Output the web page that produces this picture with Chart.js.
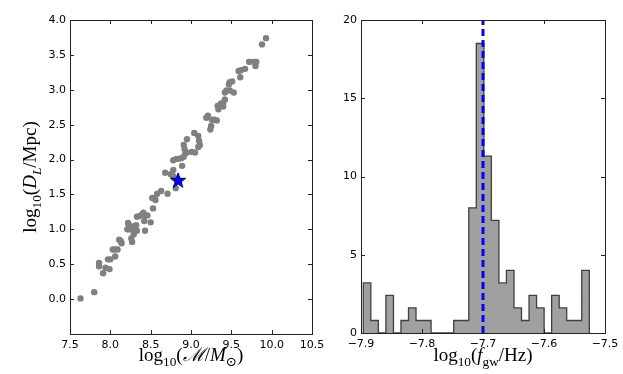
<!DOCTYPE html>
<html>
<head>
<meta charset="utf-8">
<script src="https://cdn.jsdelivr.net/npm/chart.js@4.4.1/dist/chart.umd.min.js"></script>
<style>
html, body { margin: 0; padding: 0; background: #fff; }
#wrap { position: relative; width: 623px; height: 374px; }
#graficoMassa { position: absolute; left: 0; top: 0; }
#graficoFreq { position: absolute; left: 330px; top: 0; }
</style>
</head>
<body>
<div id="wrap">
  <canvas id="graficoMassa" width="330" height="374" style="width:330px;height:374px"></canvas>
  <canvas id="graficoFreq" width="293" height="374" style="width:293px;height:374px"></canvas>
</div>
<script>
// painel esquerdo: log10(M) x log10(D_L)
var massaX = [7.63, 7.80, 7.91, 7.86, 7.86, 7.94, 7.99, 7.97, 8.00, 8.06,
              8.03, 8.06, 8.09, 8.11, 8.13, 8.14, 8.22, 8.23, 8.21, 8.23,
              8.26, 8.28, 8.29, 8.32, 8.33, 8.29, 8.26, 8.27, 8.43, 8.33,
              8.36, 8.39, 8.41, 8.43, 8.46, 8.42, 8.50, 8.53, 8.52, 8.55,
              8.56, 8.58, 8.63, 8.71, 8.68, 8.81, 8.75, 8.78, 8.78, 8.82,
              8.85, 8.88, 8.91, 8.93, 8.95, 9.01, 9.05, 8.89, 8.78, 8.95,
              8.91, 8.92, 9.04, 9.09, 9.10, 9.11, 9.09, 9.19, 9.21, 9.26,
              9.29, 9.32, 9.25, 9.24, 9.33, 9.34, 9.40, 9.42, 9.40, 9.37,
              9.44, 9.42, 9.48, 9.53, 9.51, 9.48, 9.47, 9.61, 9.62, 9.59,
              9.67, 9.80, 9.72, 9.73, 9.78, 9.81, 9.88, 9.93];
var distY = [0.01, 0.10, 0.37, 0.47, 0.52, 0.45, 0.43, 0.57, 0.57, 0.61,
             0.71, 0.71, 0.71, 0.85, 0.83, 0.80, 1.09, 1.06, 1.00, 1.00,
             1.00, 1.00, 1.04, 1.06, 0.98, 0.93, 0.87, 0.82, 0.98, 1.18,
             1.19, 1.21, 1.24, 1.20, 1.20, 1.12, 1.10, 1.30, 1.45, 1.44,
             1.42, 1.51, 1.55, 1.51, 1.81, 1.59, 1.79, 1.76, 1.99, 2.01,
             2.01, 2.02, 2.04, 2.09, 2.10, 2.11, 2.10, 1.91, 1.85, 2.29,
             2.21, 2.15, 2.38, 2.34, 2.27, 2.21, 2.18, 2.60, 2.63, 2.57,
             2.57, 2.56, 2.48, 2.43, 2.77, 2.72, 2.76, 2.86, 2.82, 2.80,
             2.99, 2.96, 2.99, 2.96, 3.12, 3.11, 3.08, 3.18, 3.28, 3.27,
             3.30, 3.34, 3.40, 3.40, 3.40, 3.40, 3.65, 3.74];
var estrelaX = [8.84];
var estrelaY = [1.71];
var ticksMassaX = [7.5, 8.0, 8.5, 9.0, 9.5, 10.0, 10.5];
var ticksMassaY = [-0.5, 0.0, 0.5, 1.0, 1.5, 2.0, 2.5, 3.0, 3.5, 4.0];
var rotulosMassaY = ['', '0.0', '0.5', '1.0', '1.5', '2.0', '2.5', '3.0', '3.5', '4.0'];

// painel direito: histograma de log10(f_gw)
var bordasBins = [-7.8962, -7.8839, -7.8715, -7.8592, -7.8468, -7.8345, -7.8221, -7.8098,
                  -7.7974, -7.7851, -7.7727, -7.7604, -7.7480, -7.7357, -7.7233, -7.7110,
                  -7.6986, -7.6863, -7.6739, -7.6616, -7.6492, -7.6369, -7.6245, -7.6122,
                  -7.5998, -7.5875, -7.5751, -7.5628, -7.5504, -7.5381, -7.5257];
var alturas = [3.2, 0.8, 0, 2.4, 0, 0.8, 1.6, 0.8, 0.8, 0,
               0, 0, 0.8, 0.8, 8.0, 18.5, 11.3, 7.2, 3.2, 4.0,
               1.6, 0.8, 2.4, 1.6, 0, 2.4, 1.6, 0.8, 0.8, 4.0];
var linhaX = [-7.7, -7.7];
var linhaY = [0, 20];
var ticksFreqX = [-7.9, -7.8, -7.7, -7.6, -7.5];
var rotulosFreqX = ['\u22127.9', '\u22127.8', '\u22127.7', '\u22127.6', '\u22127.5'];
var ticksFreqY = [0, 5, 10, 15, 20];

var fonteTicks = { family: 'DejaVu Sans', size: 11 };
var fonteMat = "'Liberation Serif', 'DejaVu Serif', serif";

function criarEstrela(raio, cor, borda) {
    var c = document.createElement('canvas');
    var s = raio * 2 + 4;
    c.width = s; c.height = s;
    var g = c.getContext('2d');
    g.beginPath();
    for (var i = 0; i < 10; i++) {
        var r = i % 2 === 0 ? raio : raio * 0.4;
        var a = -Math.PI / 2 + i * Math.PI / 5;
        g.lineTo(s / 2 + r * Math.cos(a), s / 2 + r * Math.sin(a) + 1);
    }
    g.closePath();
    g.fillStyle = cor;
    g.fill();
    g.strokeStyle = borda;
    g.lineWidth = 1;
    g.stroke();
    return c;
}

// texto com subscritos (ex: log_10)
function textoRico(ctx, partes, x, y, tam, rotacao) {
    function fonte(p) {
        var t = p[1].indexOf('sub') >= 0 ? tam * 0.7 : tam;
        return (p[1].indexOf('it') >= 0 ? 'italic ' : '') + t + 'px ' + fonteMat;
    }
    var total = 0;
    partes.forEach(function(p) { ctx.font = fonte(p); total += ctx.measureText(p[0]).width; });
    ctx.save();
    ctx.translate(x, y);
    if (rotacao) ctx.rotate(rotacao);
    ctx.fillStyle = '#000';
    ctx.textBaseline = 'alphabetic';
    ctx.textAlign = 'left';
    var cx = -total / 2;
    partes.forEach(function(p) {
        ctx.font = fonte(p);
        var dy = p[1].indexOf('sub') >= 0 ? tam * 0.25 : 0;
        ctx.fillText(p[0], cx, dy);
        cx += ctx.measureText(p[0]).width;
    });
    ctx.restore();
}

// moldura com ticks para dentro, nos quatro lados
var molduraPlugin = {
    id: 'moldura',
    afterDatasetsDraw: function(chart) {
        var ctx = chart.ctx, a = chart.chartArea;
        var sx = chart.scales.x, sy = chart.scales.y;
        ctx.save();
        ctx.strokeStyle = '#222';
        ctx.lineWidth = 1;
        ctx.beginPath();
        sx.ticks.forEach(function(t) {
            var px = Math.round(sx.getPixelForValue(t.value)) + 0.5;
            ctx.moveTo(px, a.bottom); ctx.lineTo(px, a.bottom - 4);
            ctx.moveTo(px, a.top); ctx.lineTo(px, a.top + 4);
        });
        sy.ticks.forEach(function(t) {
            var py = Math.round(sy.getPixelForValue(t.value)) + 0.5;
            ctx.moveTo(a.left, py); ctx.lineTo(a.left + 4, py);
            ctx.moveTo(a.right, py); ctx.lineTo(a.right - 4, py);
        });
        ctx.stroke();
        ctx.strokeRect(Math.round(a.left) + 0.5, Math.round(a.top) + 0.5,
                       Math.round(a.right - a.left), Math.round(a.bottom - a.top));
        ctx.restore();
        var o = chart.options.plugins.moldura;
        if (o.tituloX) textoRico(ctx, o.tituloX, (a.left + a.right) / 2, 361, 19, 0);
        if (o.tituloY) textoRico(ctx, o.tituloY, 36, (a.top + a.bottom) / 2, 19, -Math.PI / 2);
    }
};

function escala(min, max, valores, rotulos, eixo, tamanho) {
    return {
        type: 'linear', min: min, max: max,
        grid: { display: false, drawTicks: false },
        border: { display: false },
        afterBuildTicks: function(s) { s.ticks = valores.map(function(v) { return { value: v }; }); },
        afterFit: function(s) {
            if (eixo === 'x') s.height = tamanho; else s.width = tamanho;
            s.paddingLeft = 0; s.paddingRight = 0; s.paddingTop = 0; s.paddingBottom = 0;
        },
        ticks: {
            autoSkip: false, maxRotation: 0, padding: eixo === 'x' ? 5 : 4,
            color: '#000', font: fonteTicks,
            callback: function(v, i) { return rotulos ? rotulos[i] : String(v); }
        }
    };
}

var pontos = massaX.map(function(x, i) { return { x: x, y: distY[i] }; });
var estrela = estrelaX.map(function(x, i) { return { x: x, y: estrelaY[i] }; });

new Chart(document.getElementById('graficoMassa'), {
    type: 'scatter',
    data: {
        datasets: [{
            data: estrela,
            pointStyle: criarEstrela(8, '#0000ff', '#000066'),
            pointRadius: 8
        }, {
            data: pontos,
            backgroundColor: '#808080',
            borderWidth: 0,
            pointRadius: 3.2
        }]
    },
    options: {
        responsive: false,
        animation: false,
        layout: { padding: { left: 0, right: 18, top: 20, bottom: 0 } },
        scales: {
            x: escala(7.5, 10.5, ticksMassaX, ticksMassaX.map(function(v) { return v.toFixed(1); }), 'x', 40),
            y: escala(-0.5, 4.0, ticksMassaY, rotulosMassaY, 'y', 70)
        },
        plugins: {
            legend: { display: false },
            tooltip: { enabled: false },
            moldura: {
                tituloX: [['log', ''], ['10', 'sub'], ['(', ''], ['\u2133', 'it'], ['/', ''], ['M', 'it'], ['\u2299', 'sub'], [')', '']],
                tituloY: [['log', ''], ['10', 'sub'], ['(', ''], ['D', 'it'], ['L', 'sub it'], ['/Mpc)', '']]
            }
        }
    },
    plugins: [molduraPlugin]
});

var degraus = [{ x: bordasBins[0], y: 0 }];
alturas.forEach(function(h, i) { degraus.push({ x: bordasBins[i], y: h }); });
degraus.push({ x: bordasBins[bordasBins.length - 1], y: alturas[alturas.length - 1] });
degraus.push({ x: bordasBins[bordasBins.length - 1], y: 0 });

new Chart(document.getElementById('graficoFreq'), {
    type: 'line',
    data: {
        datasets: [{
            data: linhaX.map(function(x, i) { return { x: x, y: linhaY[i] }; }),
            borderColor: '#0000ff',
            borderWidth: 3,
            borderDash: [7, 4],
            pointRadius: 0,
            fill: false
        }, {
            data: degraus,
            stepped: 'before',
            borderColor: '#404040',
            borderWidth: 1.3,
            backgroundColor: '#a0a0a0',
            pointRadius: 0,
            fill: 'origin'
        }]
    },
    options: {
        responsive: false,
        animation: false,
        layout: { padding: { left: 0, right: 18, top: 20, bottom: 0 } },
        scales: {
            x: escala(-7.9, -7.5, ticksFreqX, rotulosFreqX, 'x', 41),
            y: escala(0, 20, ticksFreqY, null, 'y', 31)
        },
        plugins: {
            legend: { display: false },
            tooltip: { enabled: false },
            moldura: {
                tituloX: [['log', ''], ['10', 'sub'], ['(', ''], ['f', 'it'], ['gw', 'sub'], ['/Hz)', '']]
            }
        }
    },
    plugins: [molduraPlugin]
});
</script>
</body>
</html>
